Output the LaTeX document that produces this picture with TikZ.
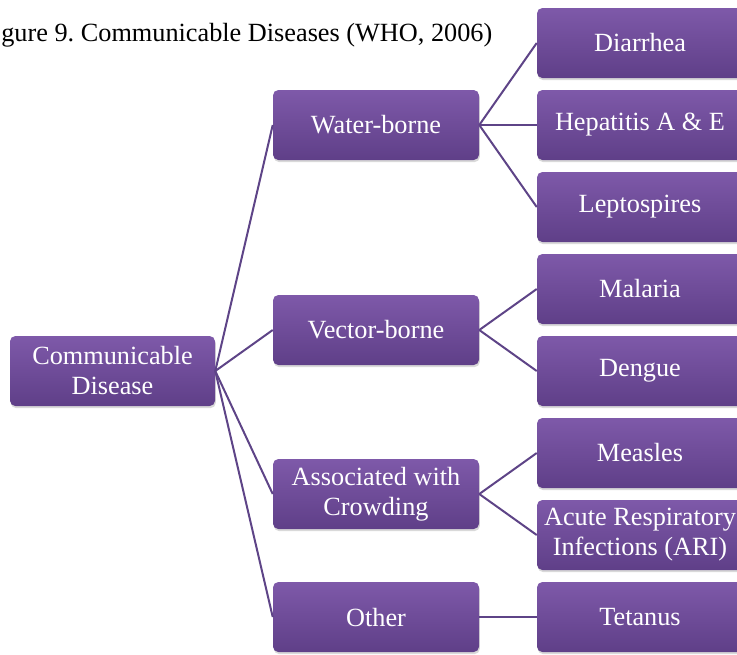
\documentclass[tikz,border=0pt]{standalone}
\usepackage{fontspec}
\setmainfont{Liberation Serif}
\usepackage{tikz}
\usetikzlibrary{shadows}
\definecolor{plumtop}{HTML}{7E59A9}
\definecolor{plumbot}{HTML}{5F3F88}
\definecolor{plumline}{HTML}{5E4487}

\begin{document}
\begin{tikzpicture}[x=0.75pt,y=-0.75pt,font=\fontsize{19.7}{22.5}\selectfont,
  block/.style={rounded corners=4pt,top color=plumtop,bottom color=plumbot,text=white,minimum width=154.5pt,minimum height=52.5pt,inner sep=2pt,align=center,drop shadow={opacity=0.3,shadow xshift=0.6pt,shadow yshift=-1.6pt}},
  link/.style={plumline,line width=1.5pt}]
\useasboundingbox (0,0) rectangle (737,654);
\node[anchor=base east] (title) at (497,41) {gure 9.\ Communicable Diseases (WHO, 2006)};
% root and first level
\node[block,minimum width=153.75pt] (cd) at (112.5,371) {Communicable\\Disease};
\node[block] (wat) at (376,125) {Water-borne};
\node[block] (vec) at (376,330) {Vector-borne};
\node[block] (crd) at (376,494) {Associated with\\Crowding};
\node[block] (oth) at (376,617) {Other};
% second level
\node[block] (dia) at (640,43) {Diarrhea};
\node[block] (hep) at (640,125) {Hepatitis A \& E};
\node[block] (lep) at (640,207) {Leptospires};
\node[block] (mal) at (640,289) {Malaria};
\node[block] (den) at (640,371) {Dengue};
\node[block] (mea) at (640,453) {Measles};
\node[block] (ari) at (640,535) {Acute Respiratory\\Infections (ARI)};
\node[block] (tet) at (640,617) {Tetanus};
\draw[link] (cd.east) -- (wat.west);
\draw[link] (cd.east) -- (vec.west);
\draw[link] (cd.east) -- (crd.west);
\draw[link] (cd.east) -- (oth.west);
\draw[link] (wat.east) -- (dia.west);
\draw[link] (wat.east) -- (hep.west);
\draw[link] (wat.east) -- (lep.west);
\draw[link] (vec.east) -- (mal.west);
\draw[link] (vec.east) -- (den.west);
\draw[link] (crd.east) -- (mea.west);
\draw[link] (crd.east) -- (ari.west);
\draw[link] (oth.east) -- (tet.west);
\end{tikzpicture}
\end{document}
